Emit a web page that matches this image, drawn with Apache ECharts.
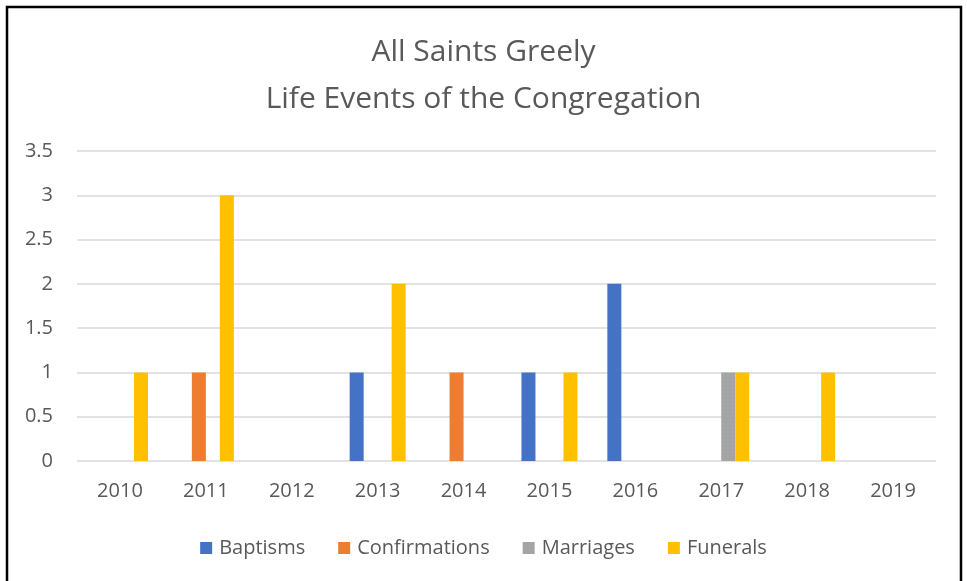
<!DOCTYPE html>
<html>
<head>
<meta charset="utf-8">
<script src="https://cdn.jsdelivr.net/npm/echarts@6/dist/echarts.min.js"></script>
<style>
html, body { margin: 0; padding: 0; background: #fff; }
#chart { width: 967px; height: 581px; }
</style>
</head>
<body>
<div id="chart"></div>
<script>
var dom = document.getElementById("chart");
var myChart = echarts.init(dom);

var years = ['2010', '2011', '2012', '2013', '2014', '2015', '2016', '2017', '2018', '2019'];
var baptisms = [0, 0, 0, 1, 0, 1, 2, 0, 0, 0];
var confirmations = [0, 1, 0, 0, 1, 0, 0, 0, 0, 0];
var marriages = [0, 0, 0, 0, 0, 0, 0, 1, 0, 0];
var funerals = [1, 3, 0, 2, 0, 1, 0, 1, 1, 0];

var font = 'Open Sans';
var textGray = '#595959';

function bar(name, data, color, extra) {
    var s = {
        name: name,
        type: 'bar',
        data: data,
        barWidth: 14,
        barGap: 0,
        itemStyle: { color: color }
    };
    if (extra) s.itemStyle.decal = extra;
    return s;
}

var option = {
    animation: false,
    title: {
        text: 'All Saints Greely\nLife Events of the Congregation',
        left: 'center',
        top: 24,
        textStyle: {
            fontFamily: font,
            fontSize: 30,
            fontWeight: 'normal',
            color: textGray,
            lineHeight: 47
        }
    },
    graphic: [{
        type: 'rect',
        shape: { x: 7, y: 7, width: 954, height: 590 },
        style: { fill: 'none', stroke: '#000', lineWidth: 2.5 },
        silent: true
    }],
    legend: {
        top: 533,
        left: 'center',
        itemWidth: 12,
        itemHeight: 12,
        itemGap: 33,
        icon: 'rect',
        textStyle: { fontFamily: font, fontSize: 20, color: textGray, padding: [0, 0, 0, 2] }
    },
    grid: { left: 77, right: 31, top: 151, bottom: 120 },
    xAxis: {
        type: 'category',
        data: years,
        axisLine: { show: false },
        axisTick: { show: false },
        axisLabel: { fontFamily: font, fontSize: 20, color: textGray, margin: 20 }
    },
    yAxis: {
        type: 'value',
        min: 0,
        max: 3.5,
        interval: 0.5,
        axisLine: { show: false },
        axisTick: { show: false },
        splitLine: { lineStyle: { color: '#d9d9d9', width: 1.5 } },
        axisLabel: { fontFamily: font, fontSize: 20, color: textGray, margin: 24 }
    },
    series: [
        bar('Baptisms', baptisms, '#4472c4'),
        bar('Confirmations', confirmations, '#ed7d31'),
        bar('Marriages', marriages, '#a5a5a5', {
            symbol: 'circle', symbolSize: 0.15, dashArrayX: [4, 0], dashArrayY: [4, 0], color: 'rgba(120,120,120,0.6)'
        }),
        bar('Funerals', funerals, '#ffc000')
    ]
};

myChart.setOption(option);
</script>
</body>
</html>
